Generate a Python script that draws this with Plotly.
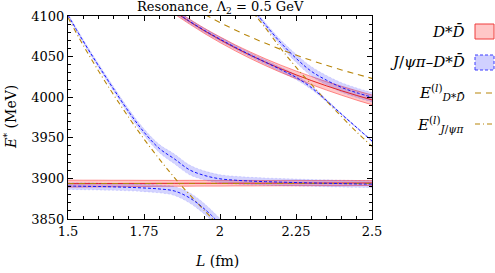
import plotly.graph_objects as go

# ---------------- data ----------------
L_all = [1.50, 1.55, 1.60, 1.65, 1.70, 1.75, 1.80, 1.85, 1.90, 1.95, 2.00,
         2.05, 2.10, 2.15, 2.20, 2.25, 2.30, 2.35, 2.40, 2.45, 2.50]

# single-channel D*Dbar (red bands)
red1_E = [3893.6, 3893.6, 3893.7, 3893.7, 3893.8, 3893.8, 3893.9, 3893.9, 3894.0, 3894.0, 3894.0,
          3894.1, 3894.1, 3894.1, 3894.2, 3894.2, 3894.2, 3894.3, 3894.3, 3894.3, 3894.4]
red1_h = [4.3, 4.2, 4.1, 4.0, 3.9, 3.8, 3.7, 3.6, 3.6, 3.5, 3.5,
          3.4, 3.4, 3.3, 3.3, 3.3, 3.2, 3.2, 3.2, 3.1, 3.1]

L_red2 = [1.85, 1.90, 1.95, 2.00, 2.05, 2.10, 2.15, 2.20, 2.25, 2.30, 2.35, 2.40, 2.45, 2.50]
red2_E = [4105.5, 4093.0, 4081.4, 4070.8, 4060.8, 4051.6, 4043.0, 4035.0, 4027.6, 4020.6,
          4014.0, 4007.9, 4002.1, 3996.7]
red2_h = [3.0, 3.0, 3.2, 3.5, 3.7, 4.0, 4.2, 4.5, 4.7, 5.0, 5.2, 5.5, 5.8, 6.0]

# coupled J/psi pi - D*Dbar (blue bands)
L_b1 = [1.50, 1.55, 1.60, 1.65, 1.70, 1.75, 1.80, 1.85, 1.90, 1.95, 2.00]
b1_E = [3890.5, 3890.3, 3890.0, 3889.6, 3889.0, 3888.2, 3887.0, 3884.5, 3876.0, 3862.0, 3844.0]
b1_h = [4.2, 4.2, 4.2, 4.2, 4.3, 4.5, 4.8, 5.5, 6.3, 6.5, 6.5]

b2_E = [4101.0, 4069.0, 4039.0, 4010.0, 3982.0, 3957.0, 3937.0, 3924.0, 3910.5, 3903.5, 3899.5,
        3897.8, 3896.7, 3896.0, 3895.4, 3894.9, 3894.4, 3894.0, 3893.6, 3893.2, 3892.9]
b2_h = [2.0, 2.2, 2.5, 2.8, 3.2, 4.0, 5.0, 6.0, 6.0, 5.5, 5.0,
        4.8, 4.6, 4.5, 4.4, 4.3, 4.2, 4.2, 4.2, 4.2, 4.2]

L_b3 = [1.85, 1.90, 1.95, 2.00, 2.05, 2.10, 2.15, 2.20, 2.25, 2.30, 2.35, 2.40, 2.45, 2.50]
b3_E = [4106.0, 4093.5, 4082.0, 4071.5, 4061.5, 4052.0, 4043.0, 4034.0, 4024.5, 4012.0,
        3996.0, 3979.0, 3962.5, 3946.0]
b3_h = [2.5, 2.5, 2.5, 2.5, 2.5, 2.5, 2.7, 2.8, 2.8, 2.3, 1.5, 0.9, 0.8, 0.8]

L_b4 = [2.10, 2.15, 2.20, 2.25, 2.30, 2.35, 2.40, 2.45, 2.50]
b4_E = [4112.0, 4089.0, 4067.0, 4048.0, 4032.0, 4021.0, 4012.0, 4005.5, 4000.0]
b4_h = [2.0, 2.5, 3.5, 5.0, 5.8, 5.8, 5.8, 5.8, 5.8]

# free energies
L_dd1 = [1.50, 2.50]
dd1_E = [3893.8, 3893.8]
L_dd2 = [1.95, 2.00, 2.05, 2.10, 2.15, 2.20, 2.25, 2.30, 2.35, 2.40, 2.45, 2.50]
dd2_E = [4101.9, 4092.0, 4082.8, 4074.2, 4066.3, 4058.9, 4051.9, 4045.4, 4039.3, 4033.6,
         4028.3, 4023.2]
L_jp1 = [1.50, 1.55, 1.60, 1.65, 1.70, 1.75, 1.80, 1.85, 1.90, 1.95, 2.00]
jp1_E = [4098.0, 4064.0, 4032.5, 4003.0, 3975.0, 3948.5, 3924.0, 3901.0, 3880.0, 3860.0, 3841.0]
L_jp2 = [2.10, 2.15, 2.20, 2.25, 2.30, 2.35, 2.40, 2.45, 2.50]
jp2_E = [4108.0, 4085.0, 4060.0, 4037.0, 4016.0, 3995.4, 3976.0, 3957.0, 3939.5]

x_ticks = [1.5, 1.75, 2.0, 2.25, 2.5]
x_ticktext = ["1.5", "1.75", "2", "2.25", "2.5"]
y_ticks = [3850, 3900, 3950, 4000, 4050, 4100]

# ---------------- styles ----------------
RED_FILL = "rgba(255,0,0,0.22)"
RED_EDGE = "rgba(255,40,40,0.7)"
RED_LINE = "rgb(225,20,20)"
BLUE_FILL = "rgba(40,40,255,0.2)"
BLUE_EDGE = "rgba(60,60,255,0.3)"
BLUE_LINE = "rgb(20,20,255)"
GOLD = "#b8860b"
FONT = "DejaVu Serif"

fig = go.Figure()


def add_band(x, c, h, fill, edge, edash, ew):
    lo = [ci - hi for ci, hi in zip(c, h)]
    up = [ci + hi for ci, hi in zip(c, h)]
    fig.add_trace(go.Scatter(x=x, y=lo, mode="lines", line=dict(color=edge, width=ew, dash=edash, shape="spline"),
                             showlegend=False, hoverinfo="skip"))
    fig.add_trace(go.Scatter(x=x, y=up, mode="lines", fill="tonexty", fillcolor=fill,
                             line=dict(color=edge, width=ew, dash=edash, shape="spline"),
                             showlegend=False, hoverinfo="skip"))


# red bands
add_band(L_all, red1_E, red1_h, RED_FILL, RED_EDGE, "solid", 0.7)
add_band(L_red2, red2_E, red2_h, RED_FILL, RED_EDGE, "solid", 0.7)
# blue bands
add_band(L_b1, b1_E, b1_h, BLUE_FILL, BLUE_EDGE, "2px,2px", 0.5)
add_band(L_all, b2_E, b2_h, BLUE_FILL, BLUE_EDGE, "2px,2px", 0.5)
add_band(L_b3, b3_E, b3_h, BLUE_FILL, BLUE_EDGE, "2px,2px", 0.5)
add_band(L_b4, b4_E, b4_h, BLUE_FILL, BLUE_EDGE, "2px,2px", 0.5)

# red centre lines
for x, y in [(L_all, red1_E), (L_red2, red2_E)]:
    fig.add_trace(go.Scatter(x=x, y=y, mode="lines", line=dict(color=RED_LINE, width=0.9, shape="spline"),
                             showlegend=False))

# free levels
for x, y in [(L_dd1, dd1_E), (L_dd2, dd2_E)]:
    fig.add_trace(go.Scatter(x=x, y=y, mode="lines",
                             line=dict(color=GOLD, width=1.1, dash="6px,5px", shape="spline"),
                             showlegend=False))
for x, y in [(L_jp1, jp1_E), (L_jp2, jp2_E)]:
    fig.add_trace(go.Scatter(x=x, y=y, mode="lines",
                             line=dict(color=GOLD, width=1.1, dash="5px,3px,1px,3px", shape="spline"),
                             showlegend=False))

# blue centre lines
for x, y in [(L_b1, b1_E), (L_all, b2_E), (L_b3, b3_E), (L_b4, b4_E)]:
    fig.add_trace(go.Scatter(x=x, y=y, mode="lines",
                             line=dict(color=BLUE_LINE, width=1.0, dash="3px,2px", shape="spline"),
                             showlegend=False))

# ---------------- layout ----------------
W, H = 495, 273
ML, MR, MT, MB = 68, 123, 16, 54
PW, PH = W - ML - MR, H - MT - MB


def px(xp):
    return (xp - ML) / PW


def py(yp):
    return (H - MB - yp) / PH


axis_common = dict(showline=True, linecolor="black", linewidth=1, mirror="allticks",
                   ticks="inside", ticklen=5, tickcolor="black", tickwidth=1,
                   showgrid=False, zeroline=False, automargin=False,
                   tickfont=dict(family=FONT, size=13, color="black"))

fig.update_layout(
    width=W, height=H, margin=dict(l=ML, r=MR, t=MT, b=MB, autoexpand=False),
    plot_bgcolor="white", paper_bgcolor="white", showlegend=False,
    xaxis=dict(range=[1.5, 2.5], tickvals=x_ticks, ticktext=x_ticktext,
               minor=dict(ticks="inside", ticklen=3, dtick=0.05, tick0=1.5, tickcolor="black", showgrid=False),
               **axis_common),
    yaxis=dict(range=[3850, 4100], tickvals=y_ticks,
               minor=dict(ticks="inside", ticklen=3, dtick=10, tick0=3850, tickcolor="black", showgrid=False),
               **axis_common),
    font=dict(family=FONT, size=14, color="black"),
)

ann = []
# title
ann.append(dict(text="Resonance, Λ<sub>2</sub> = 0.5 GeV", x=0.5, y=1, xref="paper", yref="paper",
                xanchor="center", yanchor="bottom", showarrow=False, yshift=-2,
                font=dict(family=FONT, size=13)))
# axis titles
ann.append(dict(text="<i>L</i> (fm)", x=0.49, y=py(261), xref="paper", yref="paper",
                xanchor="center", yanchor="middle", showarrow=False, font=dict(family=FONT, size=14)))
ann.append(dict(text="<i>E</i><sup>*</sup> (MeV)", x=px(10), y=py(117), xref="paper", yref="paper",
                xanchor="center", yanchor="middle", showarrow=False, textangle=-90,
                font=dict(family=FONT, size=14)))

# legend (text right-aligned, swatch at the right)
DDbar = "<i>D</i>*<i>D\u0304</i>"
leg_items = [
    (DDbar, 32),
    ("<i>J</i>/<i>ψπ</i>–" + DDbar, 62),
    ("<i>E</i><sup>(<i>l</i>)</sup><sub>" + DDbar + "</sub>", 92),
    ("<i>E</i><sup>(<i>l</i>)</sup><sub><i>J</i>/<i>ψπ</i></sub>", 124),
]
for txt, yp in leg_items:
    ann.append(dict(text=txt, x=px(467), y=py(yp), xref="paper", yref="paper",
                    xanchor="right", yanchor="middle", showarrow=False,
                    font=dict(family=FONT, size=15)))
fig.update_layout(annotations=ann)

shapes = [
    dict(type="rect", xref="paper", yref="paper", x0=px(475), x1=px(494), y0=py(39), y1=py(24),
         fillcolor="rgba(255,0,0,0.22)", line=dict(color="rgb(240,60,60)", width=1)),
    dict(type="rect", xref="paper", yref="paper", x0=px(475), x1=px(494), y0=py(70), y1=py(55),
         fillcolor="rgba(40,40,255,0.22)", line=dict(color="rgb(60,60,255)", width=1, dash="3px,2px")),
    dict(type="line", xref="paper", yref="paper", x0=px(475), x1=px(494), y0=py(93), y1=py(93),
         line=dict(color=GOLD, width=1.2, dash="6px,5px")),
    dict(type="line", xref="paper", yref="paper", x0=px(475), x1=px(494), y0=py(124), y1=py(124),
         line=dict(color=GOLD, width=1.2, dash="5px,3px,1px,3px")),
]
fig.update_layout(shapes=shapes)

# the page's default 8px body margin would shift the figure; remove it
fig.write_html("out.html", config={"displayModeBar": False},
               post_script="document.body.style.margin='0px';")
